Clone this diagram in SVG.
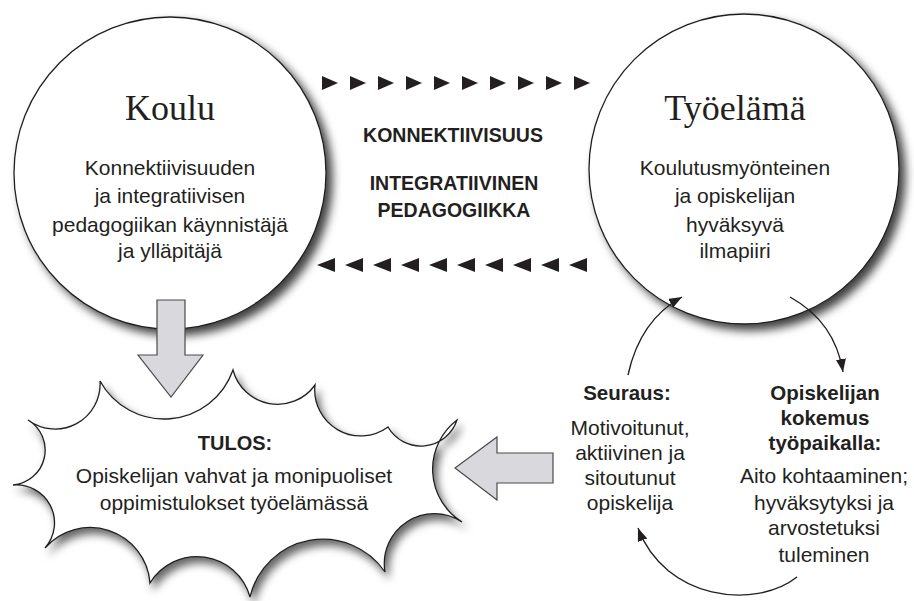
<svg xmlns="http://www.w3.org/2000/svg" width="914" height="601" viewBox="0 0 914 601">
  <defs>
    <filter id="shadow" x="-20%" y="-20%" width="150%" height="150%">
      <feDropShadow dx="6" dy="6" stdDeviation="5" flood-color="#000" flood-opacity="0.75"/>
    </filter>
    <filter id="shadow2" x="-20%" y="-20%" width="150%" height="150%">
      <feDropShadow dx="4" dy="6" stdDeviation="4" flood-color="#000" flood-opacity="0.6"/>
    </filter>
    <marker id="ah" markerUnits="userSpaceOnUse" markerWidth="14" markerHeight="12" refX="13" refY="5" orient="auto">
      <path d="M0,0 L13,5 L0,10 Z" fill="#231f20"/>
    </marker>
    <path id="triR" d="M0,-7 L16,0 L0,7 Z"/>
    <path id="triL" d="M0,0 L18,-7 L18,7 Z"/>
  </defs>
  <style>
    .circle { fill: #fff; stroke: #231f20; stroke-width: 1.3; }
    .burst { fill: #fff; stroke: #231f20; stroke-width: 1.3; }
    .block { fill: #d9d9dd; stroke: #4a4a4a; stroke-width: 1.2; }
    .tri { fill: #231f20; }
    .cyc { fill: none; stroke: #231f20; stroke-width: 1.4; marker-end: url(#ah); }
    .serif { font-family: "Liberation Serif", serif; font-size: 36px; fill: #231f20; text-anchor: middle; }
    .sans { font-family: "Liberation Sans", Arial, sans-serif; font-size: 21px; fill: #231f20; text-anchor: middle; }
    .bold { font-family: "Liberation Sans", Arial, sans-serif; font-weight: bold; fill: #231f20; text-anchor: middle; }
  </style>
  <rect width="914" height="601" fill="#fff"/>

  <g id="koulu">
    <circle class="circle" cx="170" cy="173" r="156" filter="url(#shadow)"/>
    <text class="serif" x="170" y="120">Koulu</text>
    <text class="sans" x="170" y="175">Konnektiivisuuden</text>
    <text class="sans" x="170" y="203">ja integratiivisen</text>
    <text class="sans" x="170" y="232">pedagogiikan käynnistäjä</text>
    <text class="sans" x="170" y="258">ja ylläpitäjä</text>
  </g>

  <g id="tyoelama">
    <circle class="circle" cx="744" cy="169" r="155" filter="url(#shadow)"/>
    <text class="serif" x="735" y="120">Työelämä</text>
    <text class="sans" x="735" y="175">Koulutusmyönteinen</text>
    <text class="sans" x="735" y="203">ja opiskelijan</text>
    <text class="sans" x="735" y="232">hyväksyvä</text>
    <text class="sans" x="735" y="258">ilmapiiri</text>
  </g>

  <g id="tulos">
    <path class="burst" filter="url(#shadow2)" d="M100,381 A73,73 0 0 0 233,370 A46,46 0 0 0 315,385 A46,46 0 0 0 388,427 A38,38 0 0 0 457,420 A62,62 0 0 0 462,522 A50,50 0 0 0 385,572 A75,75 0 0 0 250,597 A55,55 0 0 0 150,583 A60,60 0 0 0 45,548 A38,38 0 0 0 13,485 A35,35 0 0 0 28,420 A45,45 0 0 0 100,381 Z"/>
    <text class="bold" x="235" y="450" font-size="20">TULOS:</text>
    <text class="sans" x="234" y="483">Opiskelijan vahvat ja monipuoliset</text>
    <text class="sans" x="234" y="510">oppimistulokset työelämässä</text>
  </g>

  <g id="yhteys">
    <text class="bold" x="453" y="142" font-size="19.5">KONNEKTIIVISUUS</text>
    <text class="bold" x="454" y="190" font-size="19.5">INTEGRATIIVINEN</text>
    <text class="bold" x="454" y="217" font-size="19.5">PEDAGOGIIKKA</text>
  </g>

  <g id="seuraus">
    <text class="bold" x="627" y="400" font-size="20.5">Seuraus:</text>
    <text class="sans" x="630" y="435">Motivoitunut,</text>
    <text class="sans" x="630" y="460">aktiivinen ja</text>
    <text class="sans" x="630" y="485">sitoutunut</text>
    <text class="sans" x="630" y="510">opiskelija</text>
  </g>

  <g id="kokemus">
    <text class="bold" x="825" y="400" font-size="20.5">Opiskelijan</text>
    <text class="bold" x="825" y="425" font-size="20.5">kokemus</text>
    <text class="bold" x="825" y="450" font-size="20.5">työpaikalla:</text>
    <text class="sans" x="824" y="483">Aito kohtaaminen;</text>
    <text class="sans" x="824" y="510">hyväksytyksi ja</text>
    <text class="sans" x="824" y="535">arvostetuksi</text>
    <text class="sans" x="824" y="562">tuleminen</text>
  </g>

  <g id="connectors">
    <g class="tri">
      <use href="#triR" x="322" y="83"/>
      <use href="#triR" x="350" y="83"/>
      <use href="#triR" x="378" y="83"/>
      <use href="#triR" x="406" y="83"/>
      <use href="#triR" x="434" y="83"/>
      <use href="#triR" x="462" y="83"/>
      <use href="#triR" x="490" y="83"/>
      <use href="#triR" x="518" y="83"/>
      <use href="#triR" x="546" y="83"/>
      <use href="#triR" x="574" y="83"/>
      <use href="#triL" x="317" y="265"/>
      <use href="#triL" x="345" y="265"/>
      <use href="#triL" x="373" y="265"/>
      <use href="#triL" x="401" y="265"/>
      <use href="#triL" x="429" y="265"/>
      <use href="#triL" x="457" y="265"/>
      <use href="#triL" x="485" y="265"/>
      <use href="#triL" x="513" y="265"/>
      <use href="#triL" x="541" y="265"/>
      <use href="#triL" x="569" y="265"/>
    </g>
    <polygon class="block" points="157,300 185,300 185,355 203,355 171,397 138,355 157,355"/>
    <polygon class="block" points="553,453 553,483 497,483 497,500 455,468 497,437 497,453"/>
    <path class="cyc" d="M628,375 Q640,320 682,297"/>
    <path class="cyc" d="M790,297 Q835,322 843,372"/>
    <path class="cyc" d="M797,577 C755,610 665,600 638,528"/>
  </g>
</svg>
